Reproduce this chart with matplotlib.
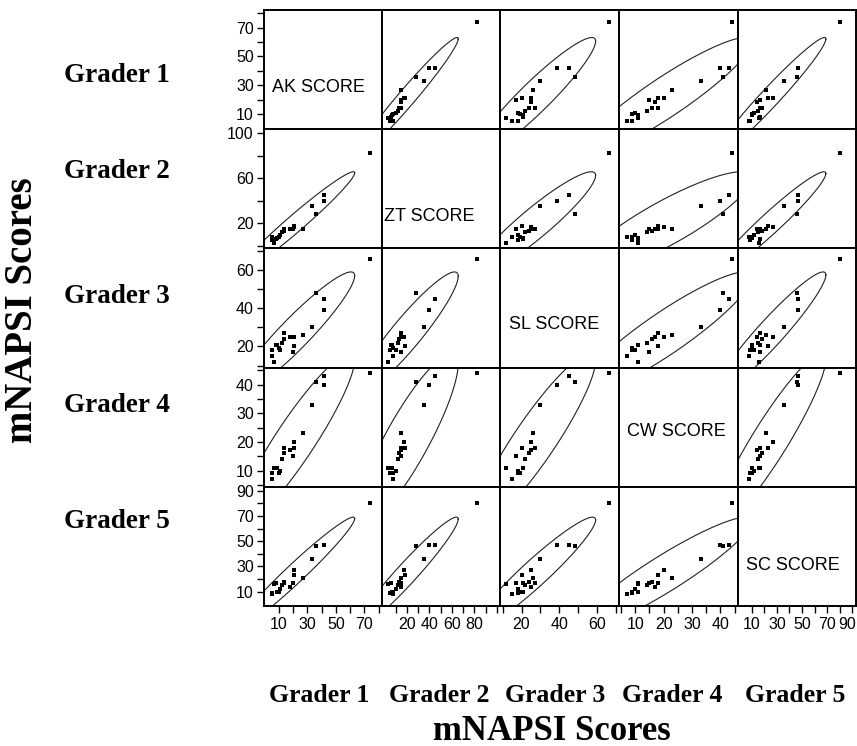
import numpy as np
import matplotlib.pyplot as plt
import matplotlib.transforms as mtransforms

# mNAPSI scores per grader (one value per subject)
grader1 = [74, 42, 42, 36, 33, 27, 21, 21, 20, 18, 14, 14, 12, 10, 9, 8, 7, 5, 5, 11]
grader2 = [82, 45, 40, 28, 35, 15, 17, 18, 15, 15, 15, 13, 12, 8, 7, 6, 3, 5, 8, 10]
grader3 = [66, 45, 39, 48, 30, 26, 25, 20, 17, 25, 27, 24, 22, 19, 21, 21, 12, 18, 15, 18]
grader4 = [44, 43, 40, 41, 33, 23, 20, 18, 15, 17, 18, 16, 14, 9, 11, 11, 11, 9, 7, 10]
grader5 = [80, 47, 47, 46, 36, 21, 27, 23, 17, 14, 17, 18, 15, 10, 10, 17, 16, 9, 8, 12]

names = ['AK SCORE', 'ZT SCORE', 'SL SCORE', 'CW SCORE', 'SC SCORE']
row_labels = ['Grader 1', 'Grader 2', 'Grader 3', 'Grader 4', 'Grader 5']

limits = [(-0.6, 82.3), (-2.2, 103.3), (8.9, 71.5), (4.3, 46.0), (-1.3, 93.0)]
tick_all = [np.arange(10, 81, 10), np.arange(0, 101, 20), np.arange(10, 71, 10),
            np.arange(5, 46, 5), np.arange(10, 91, 10)]
y_labels = [[10, 30, 50, 70], [20, 60, 100], [20, 40, 60], [10, 20, 30, 40], [10, 30, 50, 70, 90]]
x_labels = [[10, 30, 50, 70], [20, 40, 60, 80], [20, 40, 60], [10, 20, 30, 40], [10, 30, 50, 70, 90]]
text_y = [0.35, 0.27, 0.36, 0.46, 0.34]

data = [np.array(g, dtype=float) for g in (grader1, grader2, grader3, grader4, grader5)]

W, H = 857, 746
fig = plt.figure(figsize=(W / 100, H / 100), dpi=100)

left0, top0, cw, ch = 263.5, 10, 118.5, 119.2
r95 = np.sqrt(5.991)
t = np.linspace(0, 2 * np.pi, 300)

for i in range(5):
    for j in range(5):
        x0 = left0 + j * cw
        y0 = top0 + (i + 1) * ch
        ax = fig.add_axes([x0 / W, 1 - y0 / H, cw / W, ch / H])
        ax.set_xlim(limits[j])
        ax.set_ylim(limits[i])
        for s in ax.spines.values():
            s.set_linewidth(1.4)
        ax.tick_params(length=0, labelleft=False, labelbottom=False)
        ax.set_xticks([])
        ax.set_yticks([])

        if i == j:
            ax.text(0.07 if i != 1 else 0.02, text_y[i], names[i], transform=ax.transAxes,
                    fontsize=13, family='Liberation Sans', va='center', ha='left')
        else:
            x = data[j]
            y = data[i]
            # 95% density ellipse
            cov = np.cov(x, y)
            L = np.linalg.cholesky(cov)
            pts = L @ np.vstack([np.cos(t), np.sin(t)]) * r95
            ax.plot(x.mean() + pts[0], y.mean() + pts[1], color='#222222', lw=0.8)
            ax.plot(x, y, 's', color='black', markersize=2.8, markeredgewidth=0)

        if j == 0:
            ax.set_yticks(tick_all[i])
            ax.set_yticklabels([str(v) if v in y_labels[i] else '' for v in tick_all[i]])
            ax.tick_params(axis='y', length=5, width=1, direction='out', labelleft=True,
                           labelsize=11.5, pad=2)
        if i == 4:
            xt = tick_all[j]
            if j == 1:
                xt = np.arange(10, 101, 10)
            ax.set_xticks(xt)
            ax.set_xticklabels([str(v) if v in x_labels[j] else '' for v in xt])
            ax.tick_params(axis='x', length=5, width=1, direction='out', labelbottom=True,
                           labelsize=11.5, pad=3)
            if j == 4:
                # keep the last label inside the canvas
                last = ax.get_xticklabels()[-1]
                last.set_transform(last.get_transform() +
                                   mtransforms.ScaledTranslation(-5 / 100, 0, fig.dpi_scale_trans))
        for lab in ax.get_xticklabels() + ax.get_yticklabels():
            lab.set_family('Liberation Sans')

serif = 'Liberation Serif'
label_y = [75, 172, 297, 405, 522]
for k in range(5):
    fig.text(117 / W, 1 - label_y[k] / H, row_labels[k], family=serif, weight='bold',
             fontsize=19.5, ha='center', va='center')

bottom_x = [319, 439, 555, 672, 795]
for k in range(5):
    fig.text(bottom_x[k] / W, 1 - 696 / H, row_labels[k], family=serif, weight='bold',
             fontsize=18.5, ha='center', va='center')

fig.text(552 / W, 1 - 731 / H, 'mNAPSI Scores', family=serif, weight='bold',
         fontsize=25, ha='center', va='center')
fig.text(23 / W, 1 - 310 / H, 'mNAPSI Scores', family=serif, weight='bold',
         fontsize=28, ha='center', va='center', rotation=90)

fig.savefig('out.png', dpi=100)
